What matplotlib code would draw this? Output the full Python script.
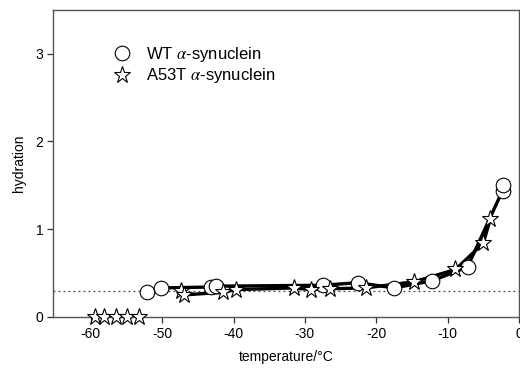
import matplotlib
matplotlib.use("Agg")
import matplotlib.pyplot as plt

plt.rcParams['font.family'] = ['Liberation Sans', 'DejaVu Sans']
plt.rcParams['mathtext.fontset'] = 'stix'

# WT alpha-synuclein (circles)
wt_temp = [-52.1, -50.1, -43.2, -42.5, -27.5, -22.6, -17.5, -12.2, -7.2, -2.3, -2.2]
wt_hyd = [0.28, 0.33, 0.34, 0.35, 0.36, 0.39, 0.33, 0.41, 0.57, 1.44, 1.50]

# A53T alpha-synuclein (stars), hydrated part
a53t_temp = [-47.4, -47.0, -41.5, -39.7, -31.5, -29.2, -26.5, -21.5, -14.7, -8.9, -5.0, -4.0]
a53t_hyd = [0.30, 0.25, 0.28, 0.31, 0.33, 0.31, 0.32, 0.33, 0.40, 0.54, 0.84, 1.12]

# A53T points at zero hydration
zero_temp = [-59.4, -58.1, -56.5, -54.9, -53.3]
zero_hyd = [0, 0, 0, 0, 0]

ref_level = 0.3
xticks = [-60, -50, -40, -30, -20, -10, 0]
yticks = [0, 1, 2, 3]

fig = plt.figure(figsize=(5.2, 3.68), dpi=100)
ax = fig.add_axes([0.102, 0.139, 0.896, 0.834])

ax.axhline(ref_level, color='#444444', linestyle=(0, (1.5, 2.5)), linewidth=0.9, zorder=1)

ax.plot(wt_temp, wt_hyd, '-', color='black', linewidth=2.4, zorder=2)
ax.plot(a53t_temp, a53t_hyd, '-', color='black', linewidth=2.4, zorder=2)

ax.plot(wt_temp, wt_hyd, 'o', markersize=10.5, markerfacecolor='white',
        markeredgecolor='black', markeredgewidth=0.8, linestyle='none', zorder=3,
        label=r'WT $\alpha$-synuclein')
ax.plot(a53t_temp, a53t_hyd, '*', markersize=12.5, markerfacecolor='white',
        markeredgecolor='black', markeredgewidth=0.8, linestyle='none', zorder=4,
        label=r'A53T $\alpha$-synuclein')
ax.plot(zero_temp, zero_hyd, '*', markersize=12.5, markerfacecolor='white',
        markeredgecolor='black', markeredgewidth=0.8, linestyle='none', zorder=4,
        clip_on=False)

ax.set_xlim(-65.3, 0)
ax.set_ylim(0, 3.5)
ax.set_xticks(xticks)
ax.set_yticks(yticks)
ax.set_xticklabels([str(t) for t in xticks])
ax.set_yticklabels([str(t) for t in yticks])
ax.tick_params(direction='out', length=4, width=0.9, labelsize=10, colors='#333333',
               labelcolor='black', pad=3)
for s in ax.spines.values():
    s.set_color('#555555')
    s.set_linewidth(1.0)

ax.set_xlabel('temperature/°C', fontsize=10, labelpad=7)
ax.set_ylabel('hydration', fontsize=10, labelpad=7)

leg = ax.legend(loc='upper left', bbox_to_anchor=(0.095, 0.935), frameon=False,
                fontsize=12, handletextpad=0.8, labelspacing=0.15, handlelength=1.2)

fig.savefig('out.png', dpi=100)
